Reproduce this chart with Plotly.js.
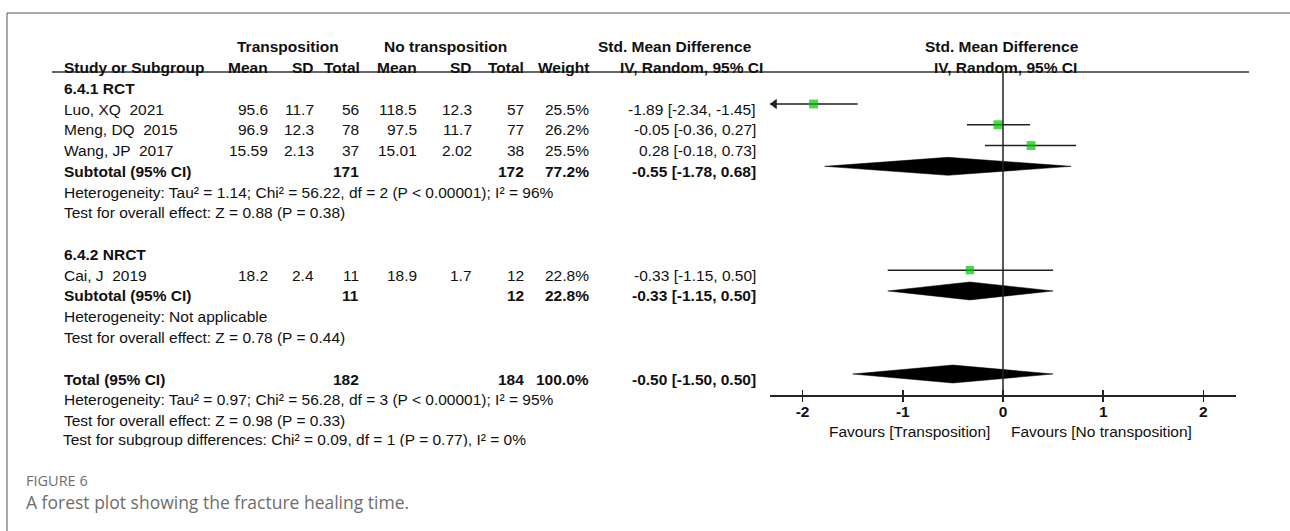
<!DOCTYPE html>
<html><head><meta charset="utf-8">
<script src="https://cdn.plot.ly/plotly-3.0.1.min.js"></script>
<style>html,body{margin:0;padding:0;background:#fff}#chart{width:1290px;height:531px}</style>
</head><body><div id="chart"></div>
<script>
// ---------------- data ----------------
const groupLabels = ['6.4.1 RCT', '6.4.2 NRCT'];
const studies   = ['Luo, XQ  2021', 'Meng, DQ  2015', 'Wang, JP  2017', 'Cai, J  2019'];
const studyGroup = [0, 0, 0, 1];
const tMean = [95.6, 96.9, 15.59, 18.2];
const tSD   = [11.7, 12.3, 2.13, 2.4];
const tN    = [56, 78, 37, 11];
const cMean = [118.5, 97.5, 15.01, 18.9];
const cSD   = [12.3, 11.7, 2.02, 1.7];
const cN    = [57, 77, 38, 12];
const weight = [25.5, 26.2, 25.5, 22.8];
const smd   = [-1.89, -0.05, 0.28, -0.33];
const smdLo = [-2.34, -0.36, -0.18, -1.15];
const smdHi = [-1.45, 0.27, 0.73, 0.50];

const subTN = [171, 11];
const subCN = [172, 12];
const subW  = [77.2, 22.8];
const subEst = [-0.55, -0.33];
const subLo  = [-1.78, -1.15];
const subHi  = [0.68, 0.50];
const subHet = ['Heterogeneity: Tau² = 1.14; Chi² = 56.22, df = 2 (P < 0.00001); I² = 96%',
                'Heterogeneity: Not applicable'];
const subZ   = ['Test for overall effect: Z = 0.88 (P = 0.38)',
                'Test for overall effect: Z = 0.78 (P = 0.44)'];

const totTN = 182, totCN = 184, totW = 100.0;
const totEst = -0.50, totLo = -1.50, totHi = 0.50;
const totHet = 'Heterogeneity: Tau² = 0.97; Chi² = 56.28, df = 3 (P < 0.00001); I² = 95%';
const totZ   = 'Test for overall effect: Z = 0.98 (P = 0.33)';
const subgroupDiff = 'Test for subgroup differences: Chi² = 0.09, df = 1 (P = 0.77), I² = 0%';

const armHeaders = ['Transposition', 'No transposition'];
const colHeaders = ['Study or Subgroup', 'Mean', 'SD', 'Total', 'Mean', 'SD', 'Total', 'Weight', 'IV, Random, 95% CI'];
const effectHeader = 'Std. Mean Difference';
const xTicks = [-2, -1, 0, 1, 2];
const favours = ['Favours [Transposition]', 'Favours [No transposition]'];
const figLabel = 'FIGURE 6';
const figCaption = 'A forest plot showing the fracture healing time.';

// ---------------- layout constants ----------------
const W = 1290, H = 531;
const FONT = '"Liberation Sans", Arial, sans-serif';
const CAPFONT = '"Open Sans", "Noto Sans", sans-serif';
const FS = 15.5;
const TXT = '#111';
const ROW0 = 46.7, ROWH = 20.77, MARK_OFF = -5;
const AXIS_Y = 395;
const XMIN = -2.325, XMAX = 2.325;
const PLOT_L = 770, PLOT_R = 1236;
const PX_PER_UNIT = (PLOT_R - PLOT_L) / (XMAX - XMIN);
const COL = {study: 63, tMean: 269, tSD: 315, tN: 360, cMean: 418, cSD: 473, cN: 525, w: 590, ci: 757};

const yOf = i => ROW0 + ROWH * i;                       // text centre, pixels
const pxToRow = p => (p - (ROW0 + MARK_OFF)) / ROWH;     // pixel -> row units (marks)
const rowTop = pxToRow(0), rowBot = pxToRow(H);

const anns = [];
function T(text, x, y, xanchor, o = {}) {
  anns.push({xref: 'paper', yref: 'paper', x: x / W, y: 1 - y / H, xanchor, yanchor: 'middle',
    text, showarrow: false, borderpad: 0,
    font: {family: o.family || FONT, size: o.size || FS, color: o.color || TXT}});
}
const B = s => '<b>' + s + '</b>';
const f2 = v => v.toFixed(2);
const ci = (e, l, h) => `${f2(e)} [${f2(l)}, ${f2(h)}]`;

// headers
T(B(armHeaders[0]), 288, yOf(0), 'center');
T(B(armHeaders[1]), 445, yOf(0), 'center');
T(B(effectHeader), 675, yOf(0), 'center');
T(B(effectHeader), 1002, yOf(0), 'center');
T(B(colHeaders[0]), COL.study, yOf(1), 'left');
const hdrX = [COL.tMean, COL.tSD, COL.tN + 1, COL.cMean, COL.cSD, COL.cN, COL.w];
for (let k = 1; k <= 7; k++) T(B(colHeaders[k]), hdrX[k - 1], yOf(1), 'right');
T(B(colHeaders[8]), 691, yOf(1), 'center');
T(B(colHeaders[8]), 1005, yOf(1), 'center');

const traces = [];
const markRows = [], diamondRows = [];
let row = 2;
groupLabels.forEach((g, gi) => {
  T(B(g), COL.study, yOf(row), 'left'); row++;
  studies.forEach((s, si) => {
    if (studyGroup[si] !== gi) return;
    const y = yOf(row);
    T(s, COL.study, y, 'left');
    T(String(tMean[si]), COL.tMean, y, 'right');
    T(String(tSD[si]), COL.tSD, y, 'right');
    T(String(tN[si]), COL.tN, y, 'right');
    T(String(cMean[si]), COL.cMean, y, 'right');
    T(String(cSD[si]), COL.cSD, y, 'right');
    T(String(cN[si]), COL.cN, y, 'right');
    T(weight[si].toFixed(1) + '%', COL.w, y, 'right');
    T(ci(smd[si], smdLo[si], smdHi[si]), COL.ci, y, 'right');
    markRows.push({si, row});
    row++;
  });
  const y = yOf(row);
  T(B('Subtotal (95% CI)'), COL.study, y, 'left');
  T(B(String(subTN[gi])), COL.tN, y, 'right');
  T(B(String(subCN[gi])), COL.cN, y, 'right');
  T(B(subW[gi].toFixed(1) + '%'), COL.w, y, 'right');
  T(B(ci(subEst[gi], subLo[gi], subHi[gi])), COL.ci, y, 'right');
  diamondRows.push({e: subEst[gi], l: subLo[gi], h: subHi[gi], row});
  row++;
  T(subHet[gi], COL.study, yOf(row), 'left'); row++;
  T(subZ[gi], COL.study, yOf(row), 'left'); row++;
  row++; // blank
});
{
  const y = yOf(row);
  T(B('Total (95% CI)'), COL.study, y, 'left');
  T(B(String(totTN)), COL.tN, y, 'right');
  T(B(String(totCN)), COL.cN, y, 'right');
  T(B(totW.toFixed(1) + '%'), COL.w, y, 'right');
  T(B(ci(totEst, totLo, totHi)), COL.ci, y, 'right');
  diamondRows.push({e: totEst, l: totLo, h: totHi, row});
  row++;
  T(totHet, COL.study, yOf(row), 'left'); row++;
  T(totZ, COL.study, yOf(row), 'left'); row++;
}
const lastRow = row;
const CLIP_Y = yOf(lastRow) + 5.3;

// favours labels & caption
const FAV_Y = 431;
T(favours[0], 991, FAV_Y, 'right');
T(favours[1], 1010, FAV_Y, 'left');
T(figLabel, 25, 480, 'left', {family: CAPFONT, size: 14.5, color: '#6e6e6e'});
T(figCaption, 25, 502, 'left', {family: CAPFONT, size: 17.5, color: '#6e6e6e'});

// ---------------- traces ----------------
const LINE = '#222';
// zero line
traces.push({x: [0, 0], y: [pxToRow(72), pxToRow(AXIS_Y)], mode: 'lines', line: {color: LINE, width: 1.5},
  xaxis: 'x2', yaxis: 'y', hoverinfo: 'skip'});
markRows.forEach(({si, row}) => {
  const lo = Math.max(smdLo[si], XMIN), hi = Math.min(smdHi[si], XMAX);
  traces.push({x: [lo, hi], y: [row, row], mode: 'lines', line: {color: LINE, width: 1.5},
    xaxis: 'x', yaxis: 'y', hoverinfo: 'skip'});
  if (smdLo[si] < XMIN) {
    traces.push({x: [XMIN + 4.5 / PX_PER_UNIT], y: [row], mode: 'markers', cliponaxis: false,
      marker: {symbol: 'triangle-left', size: 9, color: LINE}, xaxis: 'x', yaxis: 'y', hoverinfo: 'skip'});
  }
});
traces.push({x: markRows.map(d => smd[d.si]), y: markRows.map(d => d.row), mode: 'markers', cliponaxis: false,
  marker: {symbol: 'square', size: markRows.map(d => 1.75 * Math.sqrt(weight[d.si])), color: '#00c400', line: {width: 0}},
  xaxis: 'x', yaxis: 'y', hoverinfo: 'skip'});
const DH = 9 / ROWH;
diamondRows.forEach(d => {
  traces.push({x: [d.l, d.e, d.h, d.e, d.l], y: [d.row, d.row - DH, d.row, d.row + DH, d.row],
    mode: 'lines', fill: 'toself', fillcolor: '#000', line: {color: '#000', width: 0.5},
    xaxis: 'x', yaxis: 'y', hoverinfo: 'skip'});
});
// last (clipped) line
traces.push({x: [COL.study], y: [yOf(lastRow)], mode: 'text', text: [subgroupDiff], textposition: 'middle right',
  textfont: {family: FONT, size: FS, color: TXT}, cliponaxis: true, xaxis: 'x3', yaxis: 'y3', hoverinfo: 'skip'});

// ---------------- layout ----------------
const ln = (x0, y0, x1, y1, c, w) => ({type: 'line', xref: 'paper', yref: 'paper',
  x0: x0 / W, x1: x1 / W, y0: 1 - y0 / H, y1: 1 - y1 / H, line: {color: c, width: w}});
const layout = {
  width: W, height: H, margin: {l: 0, r: 0, t: 0, b: 0, pad: 0},
  paper_bgcolor: '#fff', plot_bgcolor: 'rgba(0,0,0,0)', showlegend: false,
  xaxis: {domain: [PLOT_L / W, PLOT_R / W], range: [XMIN, XMAX], anchor: 'free', position: 1 - AXIS_Y / H,
    showline: true, linecolor: LINE, linewidth: 1.5, ticks: 'outside', ticklen: 5, tickwidth: 1.5, tickcolor: LINE,
    tickvals: xTicks, ticktext: xTicks.map(String), ticklabelstandoff: -3,
    tickfont: {family: FONT, size: FS, color: TXT, weight: 'bold'},
    showgrid: false, zeroline: false, fixedrange: true},
  xaxis2: {overlaying: 'x', range: [XMIN, XMAX], anchor: 'free', position: 1 - AXIS_Y / H,
    ticks: 'inside', ticklen: 5, tickwidth: 1.5, tickcolor: LINE, tickvals: xTicks, showticklabels: false,
    showline: false, showgrid: false, zeroline: false, fixedrange: true},
  yaxis: {domain: [0, 1], range: [rowBot, rowTop], visible: false, fixedrange: true},
  xaxis3: {domain: [0, 1], range: [0, W], visible: false, anchor: 'y3', fixedrange: true},
  yaxis3: {domain: [1 - CLIP_Y / H, 1], range: [CLIP_Y, 0], visible: false, anchor: 'x3', fixedrange: true},
  shapes: [
    ln(7, 13, W, 13, '#555', 1),
    ln(7, 13, 7, H, '#555', 1),
    ln(52, 72, 1249, 72, '#333', 1.5)
  ],
  annotations: anns
};
Plotly.newPlot('chart', traces, layout, {displayModeBar: false, staticPlot: true});
</script></body></html>
